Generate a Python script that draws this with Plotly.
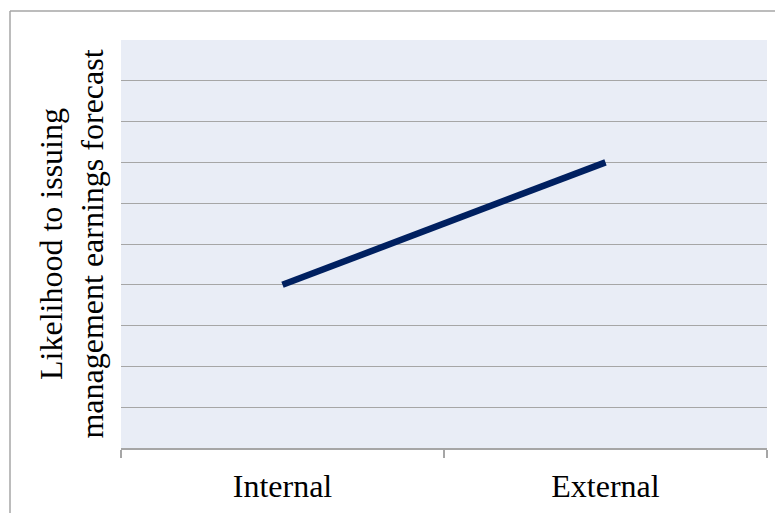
import plotly.graph_objects as go

categories = ["Internal", "External"]
likelihood = [4, 7]
y_range = [0, 10]
y_title = "Likelihood to issuing<br>management earnings forecast"

FONT = "Liberation Serif, Times New Roman, serif"
GRID = "#a6a6a6"

fig = go.Figure()
fig.add_trace(go.Scatter(
    x=categories, y=likelihood, mode="lines",
    line=dict(color="#002060", width=6.5),
    showlegend=False, hoverinfo="skip",
))

W, H = 646, 408
fig.update_layout(
    width=783, height=513,
    margin=dict(l=113, r=24, t=32, b=73),
    paper_bgcolor="white",
    plot_bgcolor="#e9edf6",
    font=dict(family=FONT, size=32, color="black"),
    xaxis=dict(
        type="category", showgrid=False,
        showline=True, linecolor=GRID, linewidth=1.5,
        ticks="outside", tickson="boundaries", ticklen=8, tickcolor=GRID, tickwidth=1.5,
        tickfont=dict(family=FONT, size=32), ticklabelstandoff=9,
        range=[-0.5, 1.5],
    ),
    yaxis=dict(
        range=y_range, dtick=1, showgrid=True, gridcolor=GRID, gridwidth=1.2,
        showticklabels=False, zeroline=False, showline=False, ticks="",
        title=dict(text=y_title, font=dict(family=FONT, size=32), standoff=6),
    ),
    shapes=[
        dict(type="line", xref="paper", yref="paper",
             x0=(10 - 121) / W, y0=1 + (40 - 11) / H, x1=1.5, y1=1 + (40 - 11) / H,
             line=dict(color=GRID, width=1.5)),
        dict(type="line", xref="paper", yref="paper",
             x0=(10 - 121) / W, y0=1 + (40 - 11) / H, x1=(10 - 121) / W, y1=-0.5,
             line=dict(color=GRID, width=1.5)),
    ],
)

fig.write_html("out.html")
